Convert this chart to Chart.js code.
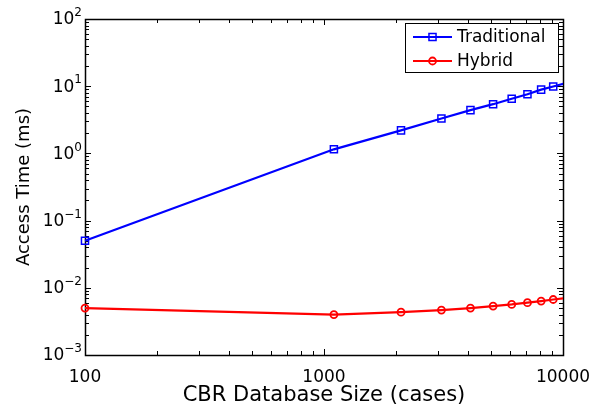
<!DOCTYPE html>
<html>
<head>
<meta charset="utf-8">
<script src="https://cdn.jsdelivr.net/npm/chart.js@4.4.1/dist/chart.umd.min.js"></script>
<style>
  html, body { margin: 0; padding: 0; background: #fff; }
  #wrap { width: 603px; height: 406px; }
</style>
</head>
<body>
<div id="wrap"><canvas id="accessChart" width="603" height="406"></canvas></div>
<script>
// database sizes (cases); the last point lies just past the axis and is clipped
var caseSizes = [100, 1100, 2100, 3100, 4100, 5100, 6100, 7100, 8100, 9100, 10100];
var traditionalTimes = [0.05, 1.15, 2.2, 3.3, 4.4, 5.4, 6.5, 7.6, 8.9, 9.9, 10.9];
var hybridTimes = [0.0050, 0.0040, 0.00434, 0.00466, 0.0050, 0.00534, 0.00565, 0.0060, 0.00634, 0.0067, 0.0070];

var seriesNames = ['Traditional', 'Hybrid'];
var xTickValues = [100, 1000, 10000];
var xTickLabels = ['100', '1000', '10000'];
var yTickValues = [0.001, 0.01, 0.1, 1, 10, 100];
var yTickExponents = ['\u22123', '\u22122', '\u22121', '0', '1', '2'];

var FONT = 'DejaVu Sans';

function points(ys) {
  return caseSizes.map(function(x, i) { return { x: x, y: ys[i] }; });
}

function hideOutside(ctx) {
  return ctx.parsed && ctx.parsed.x > 10000 ? 0 : ctx.dataset.markerSize;
}

// box round the plot plus inward MATLAB-style ticks
var frame = {
  id: 'frame',
  beforeDatasetsDraw: function(chart) {
    var a = chart.chartArea, c = chart.ctx;
    var xs = chart.scales.x, ys = chart.scales.y;
    c.save();
    c.strokeStyle = '#000';
    c.lineWidth = 1;
    c.beginPath();
    var i, m, px, py, len;
    for (i = 0; i < xTickValues.length; i++) {
      for (m = 1; m <= 9; m++) {
        var xv = xTickValues[i] * m;
        if (xv > 10000) break;
        px = Math.round(xs.getPixelForValue(xv)) + 0.5;
        len = m == 1 ? 6 : 4;
        c.moveTo(px, a.bottom); c.lineTo(px, a.bottom - len);
        c.moveTo(px, a.top); c.lineTo(px, a.top + len);
      }
    }
    for (i = 0; i < yTickValues.length; i++) {
      for (m = 1; m <= 9; m++) {
        var yv = yTickValues[i] * m;
        if (yv > 100.0001) break;
        py = Math.round(ys.getPixelForValue(yv)) + 0.5;
        len = m == 1 ? 6 : 4;
        c.moveTo(a.left, py); c.lineTo(a.left + len, py);
        c.moveTo(a.right, py); c.lineTo(a.right - len, py);
      }
    }
    c.stroke();
    c.lineWidth = 1.5;
    c.strokeRect(Math.round(a.left) + 0.5, Math.round(a.top) + 0.5,
                 Math.round(a.right - a.left), Math.round(a.bottom - a.top));

    // y labels as 10 with a raised exponent
    c.fillStyle = '#000';
    c.textBaseline = 'middle';
    c.textAlign = 'right';
    yTickValues.forEach(function(v, k) {
      var y = ys.getPixelForValue(v);
      var right = a.left - 3;
      c.font = '12px "' + FONT + '"';
      var ew = c.measureText(yTickExponents[k]).width;
      c.fillText(yTickExponents[k], right, y - 6);
      c.font = '17px "' + FONT + '"';
      c.fillText('10', right - ew, y + 1);
    });
    c.restore();
  }
};

// boxed legend in the top right corner, line sample with marker
var boxLegend = {
  id: 'boxLegend',
  afterDraw: function(chart) {
    var a = chart.chartArea, c = chart.ctx;
    var w = 153, h = 49;
    var left = a.right - 5 - w, top = a.top + 4;
    c.save();
    c.fillStyle = '#fff';
    c.fillRect(left, top, w, h);
    c.strokeStyle = '#000';
    c.lineWidth = 1;
    c.strokeRect(Math.round(left) + 0.5, Math.round(top) + 0.5, w, h);
    c.font = '17px "' + FONT + '"';
    c.textBaseline = 'middle';
    c.textAlign = 'left';
    chart.data.datasets.forEach(function(ds, i) {
      var y = top + 14 + i * 24;
      c.strokeStyle = ds.borderColor;
      c.lineWidth = 2;
      c.beginPath();
      c.moveTo(left + 8, y); c.lineTo(left + 47, y);
      c.stroke();
      c.lineWidth = ds.pointBorderWidth;
      c.fillStyle = 'rgba(0,0,0,0)';
      Chart.helpers.drawPoint(c, { pointStyle: ds.pointStyle, radius: ds.markerSize, borderWidth: ds.pointBorderWidth, rotation: 0 }, left + 27.5, y);
      c.fillStyle = '#000';
      c.fillText(ds.label, left + 52, y + 1);
    });
    c.restore();
  }
};

new Chart(document.getElementById('accessChart').getContext('2d'), {
  type: 'line',
  data: {
    datasets: [{
      label: seriesNames[0],
      data: points(traditionalTimes),
      borderColor: '#0000ff',
      backgroundColor: 'rgba(0,0,0,0)',
      borderWidth: 2.2,
      pointStyle: 'rect',
      markerSize: 5,
      pointRadius: hideOutside,
      pointBorderWidth: 1.5,
      pointBorderColor: '#0000ff',
      pointBackgroundColor: 'rgba(0,0,0,0)',
      clip: { left: 10, top: 10, right: 0, bottom: 10 }
    }, {
      label: seriesNames[1],
      data: points(hybridTimes),
      borderColor: '#ff0000',
      backgroundColor: 'rgba(0,0,0,0)',
      borderWidth: 2.2,
      pointStyle: 'circle',
      markerSize: 3.5,
      pointRadius: hideOutside,
      pointBorderWidth: 1.8,
      pointBorderColor: '#ff0000',
      pointBackgroundColor: 'rgba(0,0,0,0)',
      clip: { left: 10, top: 10, right: 0, bottom: 10 }
    }]
  },
  options: {
    responsive: false,
    animation: false,
    layout: { padding: { top: 19, right: 40, left: 0, bottom: 0 } },
    plugins: {
      legend: { display: false },
      tooltip: { enabled: false }
    },
    scales: {
      x: {
        type: 'logarithmic',
        min: 100,
        max: 10000,
        afterBuildTicks: function(s) { s.ticks = xTickValues.map(function(v) { return { value: v }; }); },
        afterFit: function(s) { s.height = 51; },
        grid: { display: false },
        border: { display: false },
        ticks: {
          color: '#000',
          padding: 4,
          maxRotation: 0,
          autoSkip: false,
          font: { family: FONT, size: 17 },
          callback: function(v) { return xTickLabels[xTickValues.indexOf(v)]; }
        },
        title: {
          display: true,
          text: 'CBR Database Size (cases)',
          color: '#000',
          padding: 0,
          font: { family: FONT, size: 21, lineHeight: 1 }
        }
      },
      y: {
        type: 'logarithmic',
        min: 0.001,
        max: 100,
        afterBuildTicks: function(s) { s.ticks = yTickValues.map(function(v) { return { value: v }; }); },
        afterFit: function(s) { s.width = 85; },
        grid: { display: false },
        border: { display: false },
        ticks: { display: false },
        title: {
          display: true,
          text: 'Access Time (ms)',
          color: '#000',
          padding: { top: 15, bottom: 0 },
          font: { family: FONT, size: 18, lineHeight: 1 }
        }
      }
    }
  },
  plugins: [frame, boxLegend]
});
</script>
</body>
</html>
